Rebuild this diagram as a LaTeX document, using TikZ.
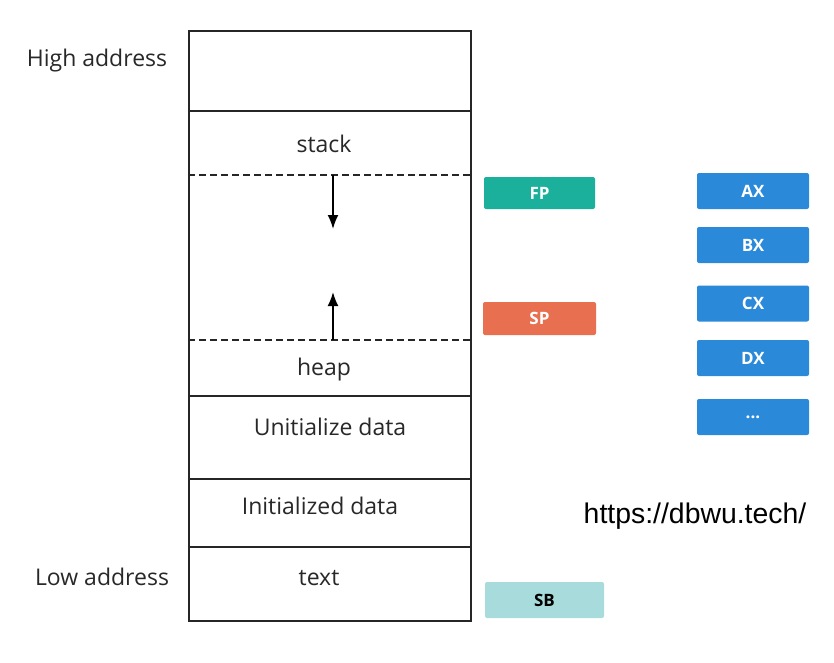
\documentclass[tikz,border=0pt]{standalone}
\usepackage{fontspec}
\setmainfont{Open Sans}
\newfontfamily\urlfont{Liberation Sans}
\usetikzlibrary{arrows.meta,positioning}
\definecolor{MemTeal}{RGB}{27,176,155}
\definecolor{MemOrange}{RGB}{232,112,80}
\definecolor{MemBlue}{RGB}{42,137,217}
\definecolor{MemAqua}{RGB}{168,220,220}
\definecolor{MemText}{RGB}{40,40,40}
\tikzset{
  mem/seg/.style={
    draw=black!85,
    line width=1.8pt,
    fill=white,
    minimum width=282pt,
    inner sep=0pt,
    anchor=north
  },
  mem/label/.style={font=\fontsize{23}{26}\selectfont, text=MemText},
  mem/reg/.style={
    rounded corners=2pt,
    fill=MemBlue,
    text=white,
    font=\fontsize{17}{19}\selectfont\bfseries,
    minimum width=112pt,
    minimum height=36pt,
    inner sep=0pt
  },
  mem/split/.style={line width=1.8pt, dash pattern=on 7pt off 4pt, draw=black!85},
  mem/arrow/.style={-{Latex[length=14pt,width=11pt]}, line width=1.8pt, draw=black}
}
\begin{document}
\begin{tikzpicture}[x=1pt,y=-1pt]
  \useasboundingbox (0,0) rectangle (834,662);
  % memory column
  \node[mem/seg,minimum height=80pt] (top) at (330,30) {};
  \node[mem/seg,minimum height=285pt] (mid) at (330,110) {};
  \node[mem/seg,minimum height=83pt] (bss) at (330,395) {};
  \node[mem/seg,minimum height=68pt] (data) at (330,478) {};
  \node[mem/seg,minimum height=74pt] (text) at (330,546) {};
  \coordinate (stacklow) at (330,175);
  \coordinate (heaptop) at (330,340);
  \draw[mem/split] (mid.west |- stacklow) -- (mid.east |- stacklow);
  \draw[mem/split] (mid.west |- heaptop) -- (mid.east |- heaptop);
  \node[mem/label] (stack) at (324,144) {stack};
  \node[mem/label] (heap) at (324,370) {heap};
  \node[mem/label] at (bss.center) [yshift=11pt] {Unitialize data};
  \node[mem/label] at (data.center) [xshift=-10pt,yshift=7pt] {Initialized data};
  \node[mem/label] at (text.center) [xshift=-11pt,yshift=6pt] {text};
  \coordinate (down) at (333,229);
  \coordinate (up) at (333,292);
  \draw[mem/arrow] (333,175) -- (down);
  \draw[mem/arrow] (333,340) -- (up);
  \node[mem/label] (high) at (97,61) {High address};
  \node[mem/label] (low) at (102,577) {Low address};
  % registers
  \node[mem/reg,fill=MemTeal,minimum width=111pt,minimum height=32pt] (fp) at (539.5,193) {FP};
  \node[mem/reg,fill=MemOrange,minimum width=113pt,minimum height=33pt] (sp) at (539.5,318.5) {SP};
  \node[mem/reg,fill=MemAqua,text=black,minimum width=119pt] (sb) at (544.5,600) {SB};
  \node[mem/reg] (ax) at (753,191) {AX};
  \node[mem/reg] (bx) at (753,245) {BX};
  \node[mem/reg] (cx) at (753,303.5) {CX};
  \node[mem/reg] (dx) at (753,358) {DX};
  \node[mem/reg] (more) at (753,417) {...};
  \node[font=\urlfont\fontsize{28.4}{31}\selectfont] (url) at (695,516) {https://dbwu.tech/};
\end{tikzpicture}
\end{document}
